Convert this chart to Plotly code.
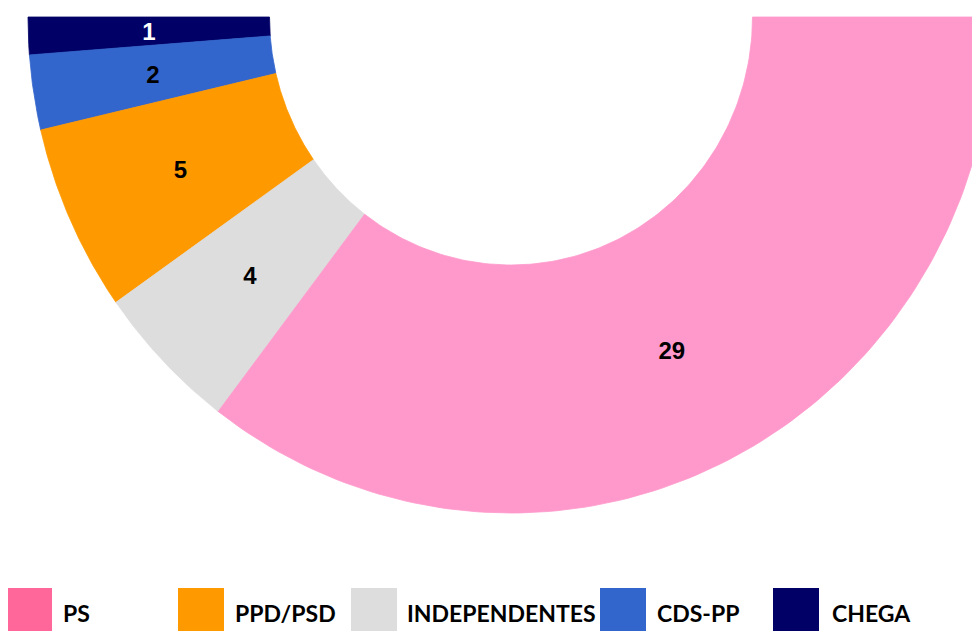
import numpy as np
import plotly.graph_objects as go

# Data (slices listed from the left end of the half ring to the right end)
slice_parties = ["CHEGA", "CDS-PP", "PPD/PSD", "INDEPENDENTES", "PS"]
slice_seats = [1, 2, 5, 4, 29]
slice_colors = ["#000066", "#3366CC", "#FF9900", "#DDDDDD", "#FF99CC"]
label_colors = ["#FFFFFF", "#000000", "#000000", "#000000", "#000000"]

# Legend (as shown beneath the chart)
legend_parties = ["PS", "PPD/PSD", "INDEPENDENTES", "CDS-PP", "CHEGA"]
legend_colors = ["#FF6699", "#FF9900", "#DDDDDD", "#3366CC", "#000066"]

W, H = 980, 631
OFF = 8                   # page body margin: the figure starts 8px in
CX, CY = 511 - OFF, 17 - OFF   # centre of the ring in figure pixels
RX, RY = 483, 496         # pixels per unit radius (horizontal / vertical)
HOLE = 0.5                # inner radius as a fraction of outer radius

total = sum(slice_seats)
cum = np.concatenate([[0], np.cumsum(slice_seats)])
ang = cum / total * np.pi   # 0 = left end, pi = right end (sweeping through the bottom)

fig = go.Figure()

lx, ly = [], []
for i, party in enumerate(slice_parties):
    t = np.linspace(ang[i], ang[i + 1], 120)
    xo, yo = -np.cos(t), -np.sin(t)
    xi, yi = -HOLE * np.cos(t[::-1]), -HOLE * np.sin(t[::-1])
    xs = np.concatenate([xo, xi, xo[:1]])
    ys = np.concatenate([yo, yi, yo[:1]])
    fig.add_trace(go.Scatter(
        x=xs, y=ys, mode="lines", fill="toself",
        fillcolor=slice_colors[i],
        line=dict(color=slice_colors[i], width=0.8),
        name=party, hoverinfo="name", showlegend=False,
    ))
    mid = (ang[i] + ang[i + 1]) / 2
    rm = (1 + HOLE) / 2
    lx.append(-rm * np.cos(mid))
    ly.append(-rm * np.sin(mid) - 3 / RY)

fig.add_trace(go.Scatter(
    x=lx, y=ly, mode="text",
    text=[str(s) for s in slice_seats],
    textfont=dict(family="Liberation Sans, Arial, sans-serif", size=24,
                  color=label_colors, weight="bold"),
    hoverinfo="skip", showlegend=False,
))

# Custom legend: big squares + bold labels (window pixels minus body offset)
leg_sq_x = [6, 178, 351, 600, 773]
leg_txt_x = [61, 233, 405, 655, 830]
sq_w = 46
sq_top, sq_bot = 588 - OFF, 640
txt_y = 613 - OFF
shapes = []
annotations = []
for i, party in enumerate(legend_parties):
    x0 = leg_sq_x[i] - OFF
    shapes.append(dict(
        type="rect", xref="paper", yref="paper",
        x0=x0 / W, x1=(x0 + sq_w) / W,
        y0=1 - sq_bot / H, y1=1 - sq_top / H,
        fillcolor=legend_colors[i], line=dict(width=0),
    ))
    annotations.append(dict(
        text=party, xref="paper", yref="paper",
        x=(leg_txt_x[i] - OFF) / W, y=1 - txt_y / H,
        xanchor="left", yanchor="middle", showarrow=False,
        font=dict(family="Lato, Liberation Sans, sans-serif", size=23,
                  color="#000000", weight="bold"),
    ))

fig.update_layout(
    width=W, height=H,
    margin=dict(l=0, r=0, t=0, b=0),
    paper_bgcolor="white", plot_bgcolor="white",
    xaxis=dict(range=[-CX / RX, (W - CX) / RX], visible=False, fixedrange=True),
    yaxis=dict(range=[-(H - CY) / RY, CY / RY], visible=False, fixedrange=True),
    shapes=shapes, annotations=annotations,
    showlegend=False,
)

fig.write_html("out.html")
